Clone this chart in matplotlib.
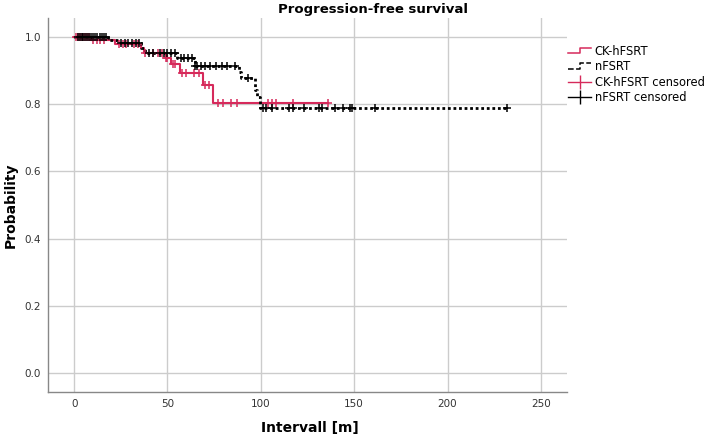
import numpy as np
import matplotlib
matplotlib.use("Agg")
import matplotlib.pyplot as plt
from matplotlib.lines import Line2D
from matplotlib.legend_handler import HandlerBase

# Kaplan-Meier steps (time in months, survival)
ck_times = [0, 9, 22, 36, 37.5, 49, 52, 56.5, 69, 74.5]
ck_surv = [1.0, 0.99, 0.98, 0.966, 0.952, 0.939, 0.92, 0.894, 0.857, 0.805]
ck_end = 136

nf_times = [0, 18, 23, 36, 38, 55, 64.5, 88.5, 89.5, 97, 98, 99.5]
nf_surv = [1.0, 0.991, 0.981, 0.966, 0.952, 0.939, 0.914, 0.895, 0.877, 0.843, 0.82, 0.79]
nf_end = 232

ck_censored = [1, 2, 3, 4, 5, 6, 7, 8, 10, 12, 14, 16, 24, 26, 28, 32, 34,
               38, 42, 45, 47, 49, 50, 53, 54, 58, 60, 64, 67, 70, 72,
               77, 80, 84, 87, 104, 106, 108, 117, 136]
nf_censored = [2, 3, 4, 5, 6, 7, 8, 9, 10, 11, 12, 14, 15, 16, 17,
               25, 27, 29, 31, 33, 35, 40, 42, 46, 48, 50, 52, 54,
               57, 59, 61, 63, 65, 66, 68, 70, 73, 76, 79, 82, 86, 93,
               101, 103, 106, 115, 117, 123, 131, 133, 140, 144, 148, 149, 161, 232]

RED = '#d62a5b'


def surv_at(t, times, surv):
    idx = np.searchsorted(times, t, side='right') - 1
    return np.array(surv)[idx]


class StepHandler(HandlerBase):
    def create_artists(self, legend, orig_handle, xdescent, ydescent,
                       width, height, fontsize, trans):
        x0 = -xdescent
        xs = [x0, x0 + 0.5 * width, x0 + 0.5 * width, x0 + width]
        ys = [-ydescent + 0.2 * height, -ydescent + 0.2 * height,
              -ydescent + 0.85 * height, -ydescent + 0.85 * height]
        line = Line2D(xs, ys, color=orig_handle.get_color(),
                      linestyle=orig_handle.get_linestyle(), linewidth=1.1)
        line.set_transform(trans)
        return [line]


fig = plt.figure(figsize=(7.09, 4.37), dpi=100)
ax = fig.add_axes([0.0677, 0.103, 0.732, 0.856])

ax.step(list(ck_times) + [ck_end], list(ck_surv) + [ck_surv[-1]], where='post',
        color=RED, linewidth=1.5, zorder=3)
ax.step(list(nf_times) + [nf_end], list(nf_surv) + [nf_surv[-1]], where='post',
        color='black', linewidth=2, linestyle=(0, (1, 1)), zorder=3)

ax.plot(ck_censored, surv_at(ck_censored, ck_times, ck_surv), linestyle='none',
        marker='+', markersize=6, markeredgewidth=1.1, color=RED, zorder=4)
ax.plot(nf_censored, surv_at(nf_censored, nf_times, nf_surv), linestyle='none',
        marker='+', markersize=6, markeredgewidth=1.1, color='black', zorder=4)

ax.set_xlim(-14, 264)
ax.set_ylim(-0.057, 1.057)
ax.set_xticks([0, 50, 100, 150, 200, 250])
ax.set_yticks([0.0, 0.2, 0.4, 0.6, 0.8, 1.0])
ax.set_yticklabels(['0.0', '0.2', '0.4', '0.6', '0.8', '1.0'])
ax.grid(True, color='#cccccc', linewidth=1)
ax.set_axisbelow(True)
ax.tick_params(length=0, labelsize=7.5, labelcolor='#333333', pad=5)
for side in ['top', 'right']:
    ax.spines[side].set_visible(False)
for side in ['left', 'bottom']:
    ax.spines[side].set_color('#888888')
    ax.spines[side].set_linewidth(1)

fig.text(310 / 709, 1 - 428 / 437, 'Intervall [m]', fontsize=10,
         fontweight='bold', ha='center', va='center')
fig.text(11 / 709, 1 - 205 / 437, 'Probability', fontsize=10,
         fontweight='bold', ha='center', va='center', rotation=90)
fig.text(373 / 709, 1 - 9 / 437, 'Progression-free survival', fontsize=9.5,
         fontweight='bold', ha='center', va='center')

h_ck = Line2D([], [], color=RED, linestyle='-')
h_nf = Line2D([], [], color='black', linestyle=(0, (1, 1)))
h_ckc = Line2D([], [], color=RED, linestyle='-', marker='|', markersize=10,
               markeredgewidth=1, linewidth=1)
h_nfc = Line2D([], [], color='black', linestyle='-', marker='|', markersize=10,
               markeredgewidth=1, linewidth=1)
ax.legend([h_ck, h_nf, h_ckc, h_nfc],
          ['CK-hFSRT', 'nFSRT', 'CK-hFSRT censored', 'nFSRT censored'],
          handler_map={h_ck: StepHandler(), h_nf: StepHandler()},
          loc='upper left', bbox_to_anchor=(568 / 709, 1 - 45 / 437),
          bbox_transform=fig.transFigure, frameon=False, fontsize=8.3,
          handlelength=2.0, handletextpad=0.3, labelspacing=0.2,
          borderaxespad=0, borderpad=0, numpoints=1)

fig.savefig('out.png', dpi=100)
